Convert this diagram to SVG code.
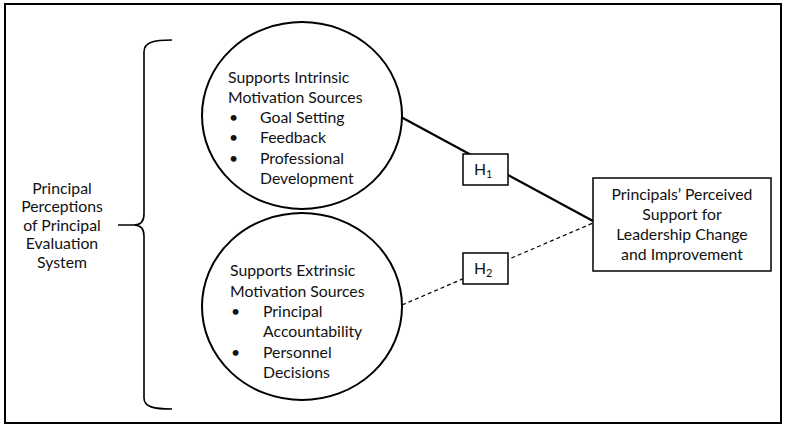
<svg xmlns="http://www.w3.org/2000/svg" width="786" height="427" viewBox="0 0 786 427">
  <style>
    .t { font-family: Lato, "Open Sans", "Liberation Sans", sans-serif; font-size: 15.8px; fill: #111; }
    .mid { text-anchor: middle; }
    .ell { fill: #fff; stroke: #000; stroke-width: 2; }
    .box { fill: #fff; stroke: #000; stroke-width: 1.5; }
    .sub { font-size: 11px; }
  </style>

  <rect x="0" y="0" width="786" height="427" fill="#fff"/>
  <!-- outer frame -->
  <rect x="5" y="4" width="776" height="419" fill="none" stroke="#000" stroke-width="2"/>

  <!-- curly brace grouping the two constructs -->
  <g id="brace">
    <path d="M172,40 C154,40 144,42 144,52 L144,214 C144,221 141,225 134,225 L118,225 M134,225 C141,225 144,229 144,236 L144,398 C144,407 154,409 172,409" fill="none" stroke="#000" stroke-width="1.6"/>
    <text class="t mid" x="62" y="194">Principal</text>
    <text class="t mid" x="62" y="212.4">Perceptions</text>
    <text class="t mid" x="62" y="230.8">of Principal</text>
    <text class="t mid" x="62" y="249.2">Evaluation</text>
    <text class="t mid" x="62" y="267.6">System</text>
  </g>

  <!-- connectors (drawn under the hypothesis boxes) -->
  <g id="connectors">
    <line x1="401" y1="117" x2="593" y2="221" stroke="#000" stroke-width="2.2"/>
    <line x1="402" y1="305" x2="593" y2="223" stroke="#000" stroke-width="1.2" stroke-dasharray="4 3"/>
  </g>

  <g id="intrinsic">
    <ellipse class="ell" cx="302" cy="115.5" rx="100" ry="93.5"/>
    <text class="t" x="228" y="82.7">Supports Intrinsic</text>
    <text class="t" x="228" y="102.9">Motivation Sources</text>
    <text class="t" x="229" y="123.1">•</text>
    <text class="t" x="260" y="123.1">Goal Setting</text>
    <text class="t" x="229" y="143.3">•</text>
    <text class="t" x="260" y="143.3">Feedback</text>
    <text class="t" x="229" y="163.5">•</text>
    <text class="t" x="260" y="163.5">Professional</text>
    <text class="t" x="260" y="183.7">Development</text>
  </g>

  <g id="extrinsic">
    <ellipse class="ell" cx="302" cy="306.5" rx="100" ry="93.5"/>
    <text class="t" x="230" y="276.3">Supports Extrinsic</text>
    <text class="t" x="230" y="296.6">Motivation Sources</text>
    <text class="t" x="231" y="316.9">•</text>
    <text class="t" x="263" y="316.9">Principal</text>
    <text class="t" x="263" y="337.2">Accountability</text>
    <text class="t" x="231" y="357.5">•</text>
    <text class="t" x="263" y="357.5">Personnel</text>
    <text class="t" x="263" y="377.8">Decisions</text>
  </g>

  <g id="h1">
    <rect class="box" x="463" y="154" width="45" height="31"/>
    <text class="t" x="474" y="175">H<tspan class="sub" dy="3">1</tspan></text>
  </g>

  <g id="h2">
    <rect class="box" x="463" y="253" width="45" height="31"/>
    <text class="t" x="474" y="273.5">H<tspan class="sub" dy="3">2</tspan></text>
  </g>

  <g id="outcome">
    <rect class="box" x="593" y="178" width="178" height="93"/>
    <text class="t mid" x="682" y="199.5">Principals’ Perceived</text>
    <text class="t mid" x="682" y="219.8">Support for</text>
    <text class="t mid" x="682" y="240.1">Leadership Change</text>
    <text class="t mid" x="682" y="260.4">and Improvement</text>
  </g>
</svg>
